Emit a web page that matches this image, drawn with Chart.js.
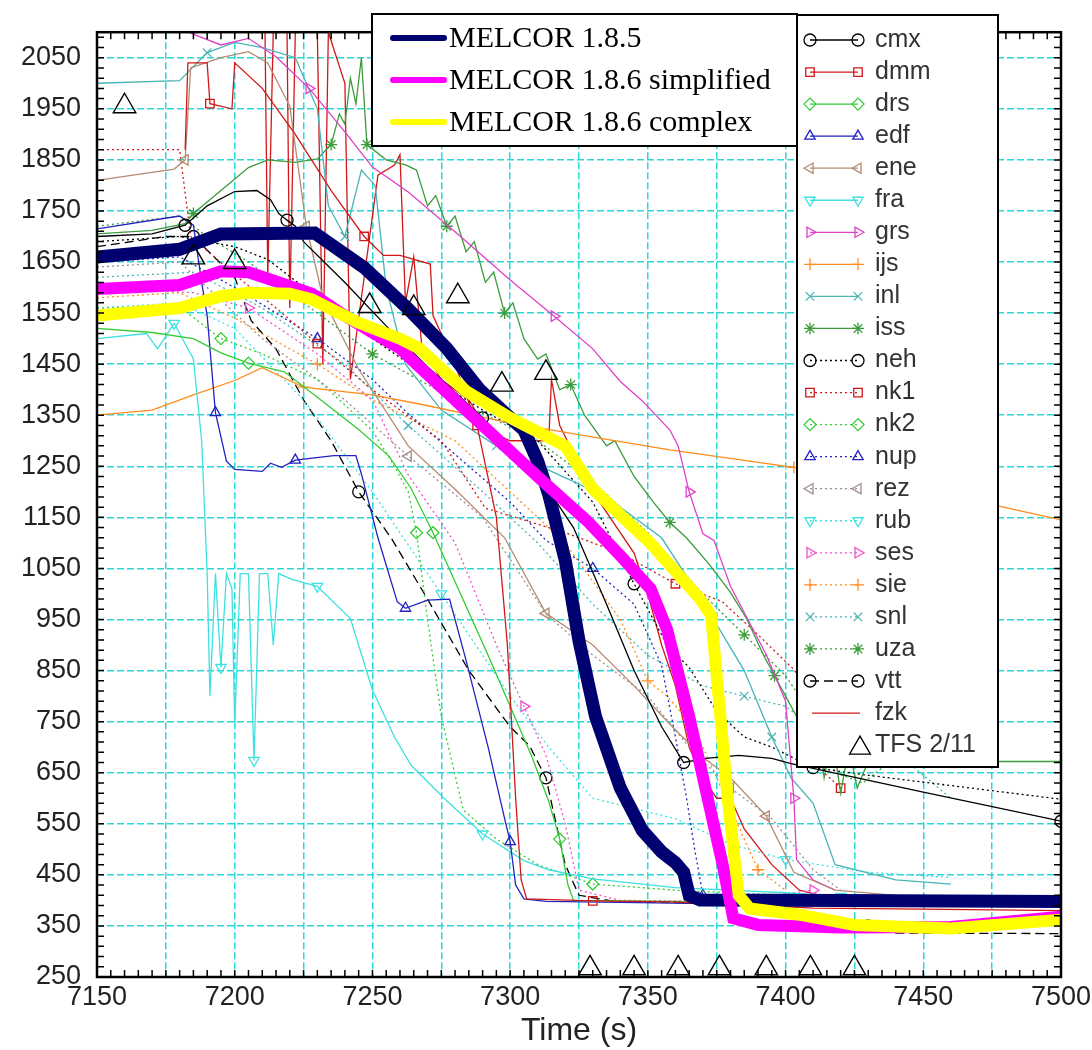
<!DOCTYPE html>
<html>
<head>
<meta charset="utf-8">
<script src="https://cdn.jsdelivr.net/npm/chart.js@4.4.1/dist/chart.umd.min.js"></script>
<style>
  html, body { margin: 0; padding: 0; background: #fff; }
</style>
</head>
<body>
<canvas id="chart" width="1092" height="1050"></canvas>
<script>
// axes
const xTicks = [7150, 7175, 7200, 7225, 7250, 7275, 7300, 7325, 7350, 7375, 7400, 7425, 7450, 7475, 7500];
const yTicks = [250, 350, 450, 550, 650, 750, 850, 950, 1050, 1150, 1250, 1350, 1450, 1550, 1650, 1750, 1850, 1950, 2050];
const xMin = 7150, xMax = 7500, yMin = 250, yMax = 2100;

// MELCOR results (time, temperature)
const melcor185 = [[7150,1660],[7180,1675],[7195,1705],[7229,1707],[7247,1639],[7263,1558],[7277,1481],[7289,1400],[7300,1345],[7305,1321],[7310,1260],[7314,1195],[7320,1066],[7325,908],[7331,760],[7340,620],[7348,537],[7355,495],[7360,474],[7363,455],[7365,410],[7369,401],[7420,400],[7500,398]];
const melcor186s = [[7150,1597],[7180,1605],[7195,1632],[7205,1630],[7215,1612],[7228,1588],[7240,1545],[7250,1512],[7260,1481],[7266,1450],[7278,1390],[7293,1315],[7311,1225],[7328,1143],[7340,1075],[7351,1010],[7357,930],[7365,760],[7369,665],[7377,474],[7381,365],[7390,352],[7420,347],[7460,348],[7500,368]];
const melcor186c = [[7150,1545],[7180,1560],[7195,1583],[7205,1590],[7220,1588],[7228,1577],[7245,1531],[7260,1500],[7267,1481],[7284,1397],[7300,1345],[7320,1290],[7330,1206],[7351,1099],[7369,990],[7373,957],[7376,780],[7379,600],[7383,410],[7387,384],[7405,372],[7425,352],[7460,345],[7500,362]];

// participants
const cmx = [[7150,1700],[7170,1705],[7182,1722],[7190,1760],[7200,1788],[7208,1790],[7213,1772],[7216,1745],[7219,1732],[7222,1720],[7225,1690],[7240,1610],[7255,1525],[7270,1445],[7290,1345],[7310,1235],[7323,1130],[7335,980],[7345,850],[7355,740],[7363,670],[7371,678],[7383,684],[7395,678],[7402,668],[7450,612],[7500,555]];
const dmm = [[7182,1870],[7183,2040],[7190,2040],[7191,1960],[7199,1950],[7200,2040],[7210,1990],[7222,1900],[7235,1790],[7247,1700],[7254,1663],[7260,1663],[7271,1646],[7272,1545],[7280,1450],[7288,1330],[7295,1150],[7299,900],[7302,600],[7304,440],[7306,403],[7330,399],[7358,397],[7385,392],[7410,385],[7450,383],[7500,380]];
const drs = [[7150,1520],[7170,1512],[7185,1500],[7195,1472],[7205,1452],[7218,1435],[7230,1385],[7245,1322],[7256,1270],[7264,1207],[7272,1120],[7282,1000],[7292,880],[7300,780],[7308,680],[7314,594],[7318,520],[7321,430],[7323,400],[7360,398],[7400,395],[7440,393]];
const edf = [[7150,1715],[7180,1740],[7185,1722],[7188,1610],[7190,1545],[7193,1355],[7197,1260],[7200,1244],[7210,1240],[7213,1256],[7217,1248],[7222,1262],[7236,1271],[7244,1271],[7246,1235],[7252,1110],[7259,985],[7262,972],[7270,988],[7278,990],[7284,870],[7292,700],[7298,560],[7300,515],[7302,430],[7305,403],[7313,398],[7340,396],[7365,394]];
const ene = [[7150,1810],[7178,1832],[7182,1850],[7184,2030],[7195,2050],[7205,2062],[7212,2040],[7220,1955],[7226,1720],[7232,1580],[7245,1440],[7263,1290],[7280,1205],[7298,1110],[7313,962],[7330,900],[7345,820],[7358,745],[7370,680],[7380,640],[7393,565],[7403,455],[7418,420],[7440,410]];
const fra = [[7150,1500],[7168,1510],[7172,1480],[7178,1530],[7185,1460],[7188,1300],[7190,1040],[7191,800],[7193,1040],[7195,856],[7197,1040],[7199,1010],[7200,741],[7202,1040],[7205,1040],[7207,674],[7209,1040],[7212,1040],[7214,900],[7216,1040],[7221,1028],[7230,1015],[7242,952],[7250,812],[7258,720],[7264,665],[7276,600],[7290,530],[7305,478],[7314,460],[7330,442],[7360,425],[7400,415],[7420,408]];
const grs = [[7184,2098],[7195,2075],[7205,2088],[7215,2052],[7227,1990],[7240,1905],[7250,1836],[7263,1787],[7282,1700],[7300,1615],[7316,1544],[7330,1480],[7340,1416],[7348,1378],[7358,1321],[7361,1290],[7365,1200],[7370,1118],[7374,1105],[7380,1015],[7393,881],[7400,790],[7403,600],[7404,480],[7410,440],[7418,420]];
const ijs = [[7150,1350],[7170,1360],[7185,1390],[7200,1418],[7210,1443],[7225,1405],[7250,1390],[7267,1372],[7300,1335],[7328,1309],[7358,1282],[7403,1248],[7450,1205],[7500,1145]];
const inl = [[7150,2000],[7180,2005],[7190,2060],[7200,2080],[7210,2070],[7222,2050],[7230,1950],[7234,1760],[7240,1700],[7246,1830],[7251,1800],[7255,1600],[7262,1450],[7275,1360],[7295,1290],[7315,1240],[7335,1190],[7355,1110],[7370,985],[7385,850],[7395,720],[7402,640],[7410,590],[7418,470],[7440,440],[7460,432]];
const iss = [[7150,1705],[7170,1712],[7182,1725],[7185,1745],[7195,1790],[7205,1835],[7212,1850],[7222,1845],[7230,1852],[7235,1880],[7238,1940],[7240,1920],[7242,2010],[7244,1960],[7246,2050],[7248,1880],[7255,1850],[7262,1840],[7266,1830],[7270,1760],[7273,1780],[7277,1720],[7280,1740],[7284,1670],[7287,1690],[7291,1610],[7294,1630],[7298,1550],[7301,1570],[7305,1500],[7310,1460],[7313,1470],[7318,1400],[7322,1410],[7327,1350],[7335,1290],[7338,1300],[7345,1230],[7352,1180],[7358,1140],[7364,1110],[7372,1060],[7380,1003],[7386,950],[7392,880],[7396,840],[7400,800],[7404,760],[7408,700],[7411,760],[7414,640],[7417,720],[7420,610],[7423,700],[7426,620],[7430,672],[7500,672]];
const neh = [[7150,1690],[7180,1700],[7200,1680],[7212,1655],[7230,1580],[7250,1500],[7263,1452],[7290,1360],[7310,1300],[7330,1180],[7345,1020],[7357,900],[7365,856],[7375,770],[7385,720],[7395,700],[7410,660],[7430,645],[7500,598]];
const nk1 = [[7150,1870],[7180,1870],[7184,1700],[7200,1625],[7215,1560],[7230,1490],[7250,1400],[7275,1300],[7291,1168],[7320,1120],[7340,1080],[7360,1020],[7377,985],[7390,920],[7403,852],[7410,800],[7414,650],[7420,620]];
const nk2 = [[7150,1560],[7180,1562],[7195,1500],[7210,1470],[7230,1420],[7250,1320],[7258,1250],[7263,1200],[7266,1120],[7270,950],[7275,760],[7283,577],[7295,520],[7310,470],[7330,432],[7360,420],[7400,410]];
const nup = [[7150,1650],[7180,1660],[7200,1600],[7230,1500],[7250,1420],[7263,1353],[7285,1250],[7300,1180],[7313,1105],[7330,1050],[7345,980],[7355,860],[7360,720],[7364,602],[7367,500],[7370,410],[7380,400],[7420,398]];
const rez = [[7150,1640],[7180,1650],[7210,1500],[7240,1380],[7263,1270],[7290,1150],[7313,961],[7330,880],[7350,800],[7365,700],[7380,620],[7395,560],[7410,460],[7420,420]];
const rub = [[7150,1560],[7180,1570],[7200,1520],[7225,1380],[7250,1200],[7275,1000],[7300,800],[7314,700],[7330,600],[7360,560],[7380,510],[7400,480],[7430,455],[7460,445]];
const ses = [[7150,1600],[7185,1590],[7205,1560],[7230,1470],[7250,1380],[7263,1233],[7280,1100],[7295,900],[7305,780],[7313,684],[7320,550],[7325,420],[7340,400],[7380,398],[7410,420]];
const sie = [[7150,1580],[7180,1590],[7200,1540],[7230,1450],[7250,1380],[7280,1300],[7300,1200],[7320,1100],[7340,950],[7350,830],[7357,800],[7365,750],[7370,700],[7375,640],[7380,580],[7390,460],[7400,420]];
const snl = [[7150,1620],[7185,1630],[7210,1560],[7240,1450],[7263,1330],[7290,1200],[7310,1100],[7330,980],[7350,880],[7370,820],[7385,800],[7400,780],[7420,700],[7440,690],[7460,600]];
const uza = [[7150,1720],[7180,1740],[7190,1700],[7205,1650],[7225,1570],[7250,1470],[7280,1380],[7310,1300],[7330,1220],[7350,1120],[7370,1000],[7385,920],[7400,840],[7410,760],[7418,650],[7428,630],[7440,680]];
const vtt = [[7150,1680],[7175,1700],[7185,1700],[7200,1620],[7206,1535],[7215,1480],[7225,1380],[7235,1300],[7245,1200],[7257,1108],[7270,990],[7285,850],[7300,740],[7307,703],[7313,640],[7320,470],[7325,410],[7340,396],[7357,397],[7400,385],[7430,350],[7440,336],[7500,335]];
const fzk = [[7200,2100],[7211,2100],[7212,1620],[7214,2100],[7219,2100],[7220,1560],[7222,2100],[7230,2100],[7232,1450],[7234,2100],[7240,2000],[7242,1420],[7246,1580],[7252,1820],[7258,1840],[7260,1860],[7262,1570],[7265,1660],[7268,1480],[7275,1420],[7285,1380],[7292,1320],[7300,1300],[7314,1300],[7315,1420],[7318,1330],[7330,1200],[7345,1080],[7350,1000],[7355,900],[7360,820],[7365,700],[7370,640],[7375,600],[7380,600],[7385,540],[7395,470],[7405,420],[7420,400],[7500,395]];

// TFS 2/11 measurements
const tfsTime = [7160, 7185, 7200, 7249, 7265, 7281, 7297, 7313, 7329, 7345, 7361, 7376, 7393, 7409, 7425];
const tfsTemp = [1955, 1659, 1650, 1564, 1560, 1583, 1410, 1433, 267, 267, 267, 267, 267, 267, 267];

const participants = [
  ['cmx', cmx], ['dmm', dmm], ['drs', drs], ['edf', edf], ['ene', ene], ['fra', fra], ['grs', grs],
  ['ijs', ijs], ['inl', inl], ['iss', iss], ['neh', neh], ['nk1', nk1], ['nk2', nk2], ['nup', nup],
  ['rez', rez], ['rub', rub], ['ses', ses], ['sie', sie], ['snl', snl], ['uza', uza], ['vtt', vtt], ['fzk', fzk]
];

// styles
const DOT = [2, 3], DASH = [9, 5];
const styles = {
  cmx: { color: '#000000', dash: [], point: 'circle', rot: 0 },
  dmm: { color: '#d01818', dash: [], point: 'rect', rot: 0 },
  drs: { color: '#33cc33', dash: [], point: 'rectRot', rot: 0 },
  edf: { color: '#2222c0', dash: [], point: 'triangle', rot: 0 },
  ene: { color: '#b48a72', dash: [], point: 'triangle', rot: -90 },
  fra: { color: '#3ee0e0', dash: [], point: 'triangle', rot: 180 },
  grs: { color: '#e040c8', dash: [], point: 'triangle', rot: 90 },
  ijs: { color: '#ff8c1a', dash: [], point: 'cross', rot: 0 },
  inl: { color: '#48b4b4', dash: [], point: 'crossRot', rot: 0 },
  iss: { color: '#3c9c3c', dash: [], point: 'star', rot: 0 },
  neh: { color: '#000000', dash: DOT, point: 'circle', rot: 0 },
  nk1: { color: '#d01818', dash: DOT, point: 'rect', rot: 0 },
  nk2: { color: '#33cc33', dash: DOT, point: 'rectRot', rot: 0 },
  nup: { color: '#2222c0', dash: DOT, point: 'triangle', rot: 0 },
  rez: { color: '#a08c8c', dash: DOT, point: 'triangle', rot: -90 },
  rub: { color: '#3ee0e0', dash: DOT, point: 'triangle', rot: 180 },
  ses: { color: '#f050d0', dash: DOT, point: 'triangle', rot: 90 },
  sie: { color: '#ff8c1a', dash: DOT, point: 'cross', rot: 0 },
  snl: { color: '#48b4b4', dash: DOT, point: 'crossRot', rot: 0 },
  uza: { color: '#3c9c3c', dash: DOT, point: 'star', rot: 0 },
  vtt: { color: '#000000', dash: DASH, point: 'circle', rot: 0 },
  fzk: { color: '#d01818', dash: [], point: false, rot: 0 }
};

const NAVY = '#000070', MAGENTA = '#ff00ff', YELLOW = '#ffff00';
const GRID = '#2ad8d8';
const SANS = '"Liberation Sans", Arial, sans-serif';
const SERIF = '"Liberation Serif", "Times New Roman", serif';

const xy = pts => pts.map(p => ({ x: p[0], y: p[1] }));

const datasets = [];

// thick MELCOR lines (first drawn on top)
datasets.push({ label: 'MELCOR 1.8.6 complex', data: xy(melcor186c), borderColor: YELLOW, borderWidth: 12, pointRadius: 0, order: 1 });
datasets.push({ label: 'MELCOR 1.8.6 simplified', data: xy(melcor186s), borderColor: MAGENTA, borderWidth: 12, pointRadius: 0, order: 2 });
datasets.push({ label: 'MELCOR 1.8.5', data: xy(melcor185), borderColor: NAVY, borderWidth: 13, pointRadius: 0, order: 3 });

participants.forEach(([name, pts], i) => {
  const s = styles[name];
  datasets.push({
    label: name,
    data: xy(pts),
    borderColor: s.color,
    borderWidth: 1.3,
    borderDash: s.dash,
    pointStyle: s.point || 'circle',
    pointRotation: s.rot,
    pointRadius: s.point ? (ctx => (ctx.index % 6 === (i % 4) + 2 ? 6 : 0)) : 0,
    pointBorderColor: s.color,
    pointBackgroundColor: 'rgba(0,0,0,0)',
    pointBorderWidth: 1.3,
    order: 10 + i
  });
});

datasets.push({
  label: 'TFS 2/11',
  data: tfsTime.map((t, i) => ({ x: t, y: tfsTemp[i] })),
  showLine: false,
  pointStyle: 'triangle',
  pointRadius: 13,
  pointBorderColor: '#000',
  pointBackgroundColor: 'rgba(0,0,0,0)',
  pointBorderWidth: 1.4,
  order: 0
});

function marker(ctx, style, rot, r, x, y, color) {
  ctx.save();
  ctx.setLineDash([]);
  ctx.strokeStyle = color;
  ctx.fillStyle = 'rgba(0,0,0,0)';
  ctx.lineWidth = 1.3;
  Chart.helpers.drawPoint(ctx, { pointStyle: style, rotation: rot, radius: r, borderWidth: 1.3 }, x, y);
  ctx.restore();
}

const decorPlugin = {
  id: 'decor',
  afterDatasetsDraw(chart) {
    const { ctx, chartArea: a, scales: { x, y } } = chart;
    ctx.save();
    ctx.strokeStyle = '#000';
    ctx.lineWidth = 1.5;
    ctx.beginPath();
    for (let v = xMin; v <= xMax; v += 5) {
      const px = x.getPixelForValue(v);
      ctx.moveTo(px, a.bottom); ctx.lineTo(px, a.bottom - 7);
      ctx.moveTo(px, a.top); ctx.lineTo(px, a.top + 7);
    }
    for (let v = yMin; v <= yMax; v += 20) {
      const py = y.getPixelForValue(v);
      ctx.moveTo(a.left, py); ctx.lineTo(a.left + 7, py);
      ctx.moveTo(a.right, py); ctx.lineTo(a.right - 7, py);
    }
    ctx.stroke();
    ctx.lineWidth = 2.5;
    ctx.strokeRect(a.left, a.top, a.right - a.left, a.bottom - a.top);
    ctx.restore();
  },
  afterDraw(chart) {
    const ctx = chart.ctx;
    ctx.save();

    // MELCOR legend
    ctx.fillStyle = '#fff';
    ctx.fillRect(372, 14, 425, 132);
    ctx.strokeStyle = '#000';
    ctx.lineWidth = 2;
    ctx.strokeRect(372, 14, 425, 132);
    const mel = [['MELCOR 1.8.5', NAVY], ['MELCOR 1.8.6 simplified', MAGENTA], ['MELCOR 1.8.6 complex', YELLOW]];
    ctx.font = '30px ' + SERIF;
    ctx.textBaseline = 'middle';
    mel.forEach(([txt, col], i) => {
      const yy = 38 + i * 42;
      ctx.strokeStyle = col;
      ctx.lineWidth = 6;
      ctx.lineCap = 'round';
      ctx.beginPath(); ctx.moveTo(393, yy); ctx.lineTo(444, yy); ctx.stroke();
      ctx.fillStyle = '#000';
      ctx.fillText(txt, 449, yy + 1);
    });
    ctx.lineCap = 'butt';

    // participants legend
    ctx.fillStyle = '#fff';
    ctx.fillRect(797, 15, 201, 752);
    ctx.strokeStyle = '#000';
    ctx.lineWidth = 2;
    ctx.strokeRect(797, 15, 201, 752);
    ctx.font = '25px ' + SANS;
    participants.forEach(([name], i) => {
      const s = styles[name];
      const yy = 40 + i * 32.05;
      ctx.strokeStyle = s.color;
      ctx.lineWidth = 1.3;
      ctx.setLineDash(s.dash);
      ctx.beginPath();
      if (s.point) { ctx.moveTo(810, yy); ctx.lineTo(858, yy); }
      else { ctx.moveTo(812, yy); ctx.lineTo(860, yy); }
      ctx.stroke();
      ctx.setLineDash([]);
      if (s.point) {
        marker(ctx, s.point, s.rot, 6, 810, yy, s.color);
        marker(ctx, s.point, s.rot, 6, 858, yy, s.color);
      }
      ctx.fillStyle = '#333';
      ctx.fillText(name, 875, yy);
    });
    const ty = 40 + participants.length * 32.05;
    marker(ctx, 'triangle', 0, 12, 860, ty + 3, '#000');
    ctx.fillStyle = '#333';
    ctx.fillText('TFS 2/11', 875, ty);

    ctx.restore();
  }
};

new Chart(document.getElementById('chart'), {
  type: 'line',
  data: { datasets: datasets },
  options: {
    responsive: false,
    animation: false,
    devicePixelRatio: 1,
    layout: { padding: { left: 0, top: 8, right: 31, bottom: 0 } },
    elements: { line: { tension: 0 } },
    plugins: { legend: { display: false }, tooltip: { enabled: false } },
    scales: {
      x: {
        type: 'linear',
        min: xMin,
        max: xMax,
        afterBuildTicks: scale => { scale.ticks = xTicks.map(v => ({ value: v })); },
        afterFit: scale => { scale.height = 73; scale.paddingLeft = 0; scale.paddingRight = 0; },
        ticks: {
          autoSkip: false,
          maxRotation: 0,
          minRotation: 0,
          padding: 4,
          color: '#222',
          font: { family: SANS, size: 27 },
          callback: v => (v % 50 === 0 ? String(v) : '')
        },
        grid: { color: GRID, lineWidth: 1.5, drawTicks: false },
        border: { display: false, dash: [7, 3] },
        title: {
          display: true,
          text: 'Time (s)',
          color: '#222',
          font: { family: SANS, size: 32 },
          padding: { top: 0, bottom: 0 }
        }
      },
      y: {
        type: 'linear',
        min: yMin,
        max: yMax,
        afterBuildTicks: scale => { scale.ticks = yTicks.map(v => ({ value: v })); },
        afterFit: scale => { scale.width = 97; },
        ticks: {
          padding: 16,
          color: '#222',
          font: { family: SANS, size: 27 },
          callback: v => String(v)
        },
        grid: { color: GRID, lineWidth: 1.5, drawTicks: false },
        border: { display: false, dash: [7, 3] }
      }
    }
  },
  plugins: [decorPlugin]
});
</script>
</body>
</html>
